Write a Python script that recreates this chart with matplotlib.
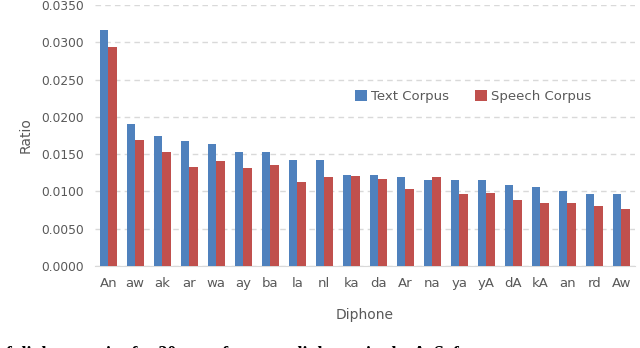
import matplotlib

matplotlib.use("Agg")
import matplotlib.pyplot as plt
import numpy as np

DIPHONES = ["An", "aw", "ak", "ar", "wa", "ay", "ba", "la", "nl", "ka",
            "da", "Ar", "na", "ya", "yA", "dA", "kA", "an", "rd", "Aw"]
TEXT_CORPUS = [0.0316, 0.0191, 0.0175, 0.0167, 0.0163, 0.0153, 0.0153, 0.0142, 0.0142, 0.0122,
               0.0122, 0.0120, 0.0116, 0.0116, 0.0115, 0.0108, 0.0106, 0.0101, 0.0096, 0.0096]
SPEECH_CORPUS = [0.0294, 0.0169, 0.0153, 0.0133, 0.0141, 0.0132, 0.0135, 0.0113, 0.0120, 0.0121,
                 0.0117, 0.0103, 0.0120, 0.0097, 0.0098, 0.0089, 0.0085, 0.0084, 0.0080, 0.0076]
Y_TICKS = [0.0, 0.005, 0.010, 0.015, 0.020, 0.025, 0.030, 0.035]
CAPTION = "of diphone ratios for 20 most frequent diphones in the ArSoft corpus"

BLUE = "#4F81BD"
RED = "#C0504D"
GREY = "#595959"

fig = plt.figure(figsize=(6.4, 3.48), dpi=100)
ax = fig.add_axes([0.148, 0.2356, 0.844, 0.75])

x = np.arange(len(DIPHONES))
w = 0.31
ax.bar(x - w / 2, TEXT_CORPUS, w, color=BLUE, label="Text Corpus", zorder=3)
ax.bar(x + w / 2, SPEECH_CORPUS, w, color=RED, label="Speech Corpus", zorder=3)

ax.set_xlim(-0.5, len(DIPHONES) - 0.5)
ax.set_ylim(0, 0.035)
ax.set_yticks(Y_TICKS)
ax.set_yticklabels([f"{v:.4f}" for v in Y_TICKS])
ax.set_xticks(x)
ax.set_xticklabels(DIPHONES)
ax.tick_params(axis="y", length=0, labelsize=8.8, colors=GREY, pad=8)
ax.tick_params(axis="x", length=0, labelsize=9.5, colors=GREY, pad=8)

for s in ["top", "right", "left"]:
    ax.spines[s].set_visible(False)
ax.spines["bottom"].set_color("#d9d9d9")
ax.yaxis.grid(True, color="#d9d9d9", linestyle=(0, (4, 3)), linewidth=1.0, zorder=0)
ax.set_axisbelow(True)

ax.set_ylabel("Ratio", fontsize=10, color=GREY, labelpad=6)
ax.set_xlabel("Diphone", fontsize=10, color=GREY, labelpad=13)

ax.legend(loc="center", bbox_to_anchor=(0.70, 0.651), ncol=2, frameon=False,
          fontsize=9.5, labelcolor=GREY, handlelength=0.9, handleheight=0.9,
          columnspacing=2.0, handletextpad=0.3)

# caption of the source figure, clipped by the bottom edge
fig.text(-0.005, -0.032, CAPTION, family="Liberation Serif", fontsize=13,
         fontweight="bold", ha="left", va="baseline", color="black")

fig.savefig("out.png", dpi=100)
